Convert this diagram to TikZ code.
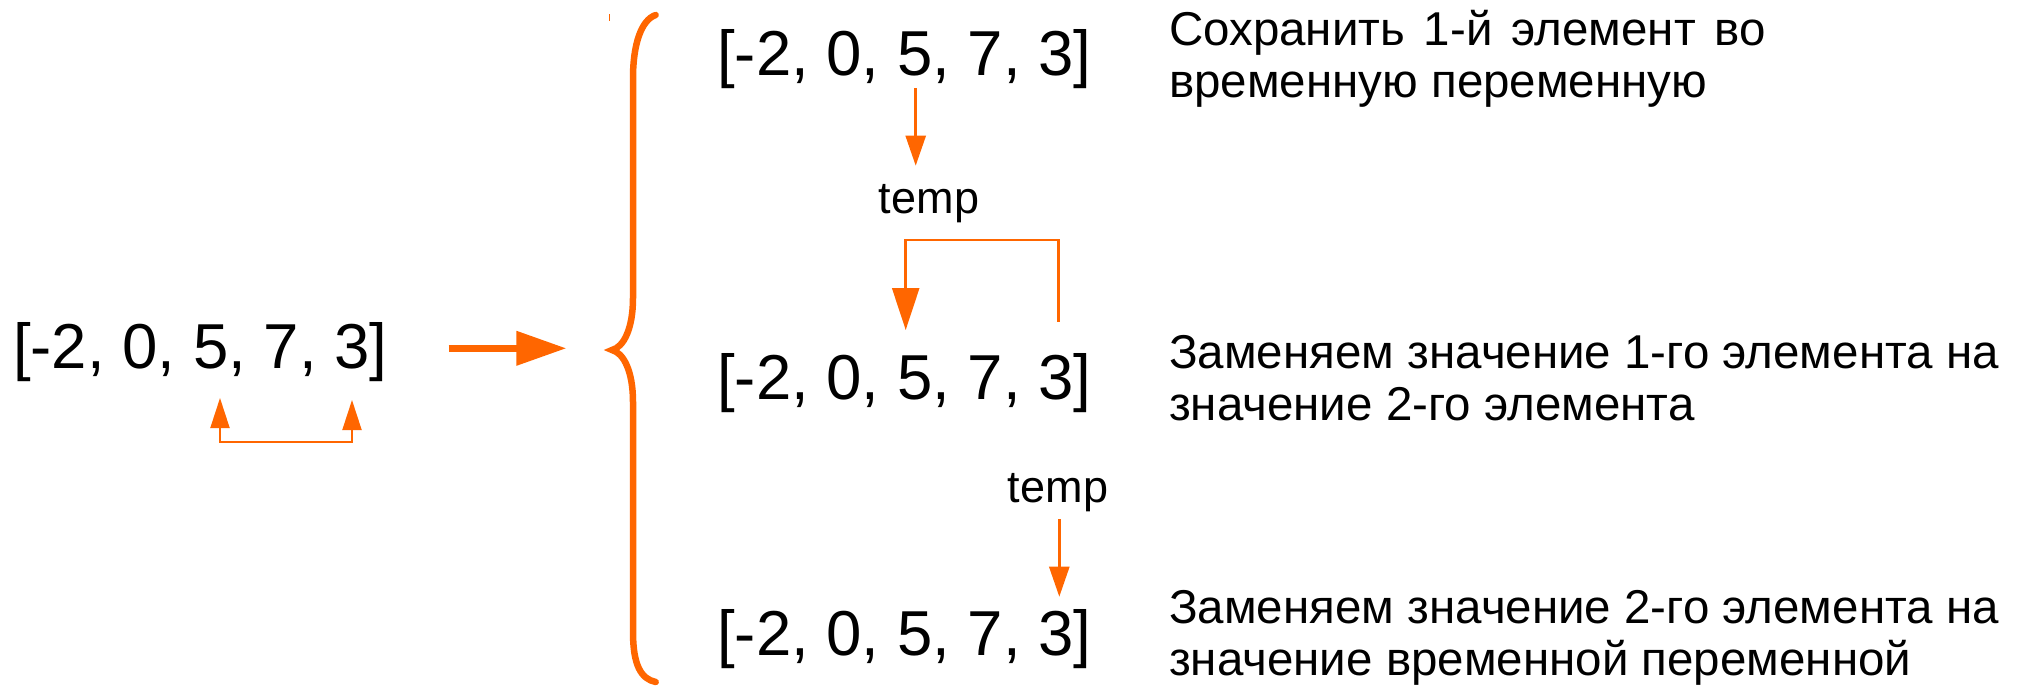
\documentclass[tikz,border=0pt]{standalone}
\usepackage{fontspec}
\setmainfont{Liberation Sans}
\usetikzlibrary{arrows.meta}
\definecolor{swaporange}{HTML}{FF6600}
\begin{document}
\begin{tikzpicture}[x=1pt,y=-1pt,
  list/.style={inner sep=0pt,anchor=base west,font=\fontsize{63.5}{70}\selectfont},
  tmp/.style={inner sep=0pt,anchor=base,font=\fontsize{45}{50}\selectfont},
  note/.style={inner sep=0pt,anchor=base west,align=left,font=\fontsize{47.5}{52}\selectfont},
  conn/.style={draw=swaporange,line width=2.5pt},
  tipA/.style={-{Triangle[length=30pt,width=20pt]}},
  tipB/.style={-{Triangle[length=42pt,width=27pt]}},
  bigarrow/.style={draw=swaporange,line width=7pt,-{Triangle[length=50pt,width=33pt]}},
  swap/.style={draw=swaporange,line width=2pt,{Triangle[length=30pt,width=19pt]}-{Triangle[length=30pt,width=19pt]}},
  brace/.style={draw=swaporange,line width=6.5pt,line cap=round}]
\useasboundingbox (0,0) rectangle (2019,686);
\fill[white] (0,0) rectangle (2019,686);

% source list and the swap it describes
\node[list] (a0) at (13,368) {[-2, 0, 5, 7, 3]};
\coordinate (sL) at (220,398);
\coordinate (sR) at (352,400);
\draw[swap] (sL) -- (220,441.7) -- (352,441.7) -- (sR);

% big arrow towards the step list
\coordinate (m0) at (448.5,348.3);
\coordinate (m1) at (566.4,348.3);
\draw[bigarrow] (m0) -- (m1);

% curly brace grouping the three steps
\draw[brace] (655.7,15) .. controls (641,20) and (633,45) .. (633,78)
  -- (633,298) .. controls (633,328) and (624,347) .. (612,350)
  .. controls (624,353) and (633,372) .. (633,402)
  -- (633,632) .. controls (633,665) and (641,679) .. (655.7,682);
\draw[draw=swaporange,line width=1pt] (609.6,14) -- (609.6,21);

% the three states of the list
\node[list] (a1) at (717,75) {[-2, 0, 5, 7, 3]};
\node[list] (a2) at (717,399) {[-2, 0, 5, 7, 3]};
\node[list] (a3) at (717,655) {[-2, 0, 5, 7, 3]};

\node[tmp] (t1) at (929,213) {temp};
\node[tmp] (t2) at (1058,502) {temp};

% step 1: first element into temp
\coordinate (p1) at (915.7,88.3);
\coordinate (q1) at (915.7,165.7);
\draw[conn,tipA] (p1) -- (q1);

% step 2: second element into first slot
\coordinate (p2) at (1058.6,321.7);
\coordinate (q2) at (905.7,330);
\draw[conn,tipB] (p2) -- (1058.6,240) -- (905.7,240) -- (q2);

% step 3: temp into second slot
\coordinate (p3) at (1059.3,519);
\coordinate (q3) at (1059.3,596.7);
\draw[conn,tipA] (p3) -- (q3);

% explanations (base anchor sits on the last line)
\node[note] (n1) at (1169,97) {{\spaceskip=18.7pt\relax Сохранить 1-й элемент во}\\временную переменную};
\node[note] (n2) at (1169,420) {Заменяем значение 1-го элемента на\\значение 2-го элемента};
\node[note] (n3) at (1169,675) {Заменяем значение 2-го элемента на\\значение временной переменной};
\end{tikzpicture}
\end{document}
